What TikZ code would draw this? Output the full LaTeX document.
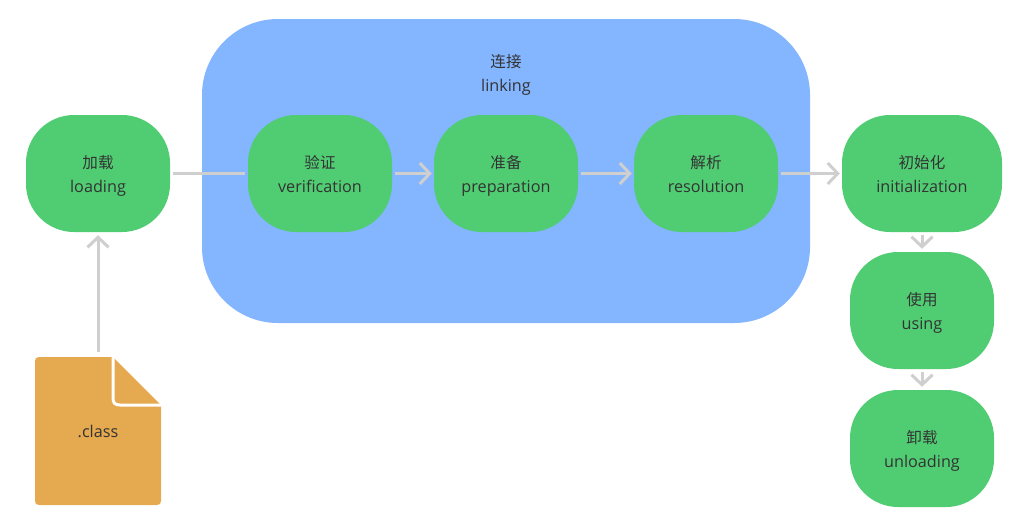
\documentclass[tikz,border=0pt]{standalone}
\usepackage{fontspec}
\setmainfont{Open Sans}
\newfontfamily\cjk[Scale=0.96]{Noto Sans CJK SC}
\usetikzlibrary{arrows.meta}
\definecolor{bluebg}{HTML}{84B5FF}
\definecolor{greenbox}{HTML}{50CD73}
\definecolor{orangedoc}{HTML}{E5A94F}
\definecolor{grayline}{HTML}{CFCFCF}
\definecolor{inktext}{HTML}{333333}
\newcommand{\two}[2]{\rule{0pt}{20pt}{\cjk #1}\\\rule[-6pt]{0pt}{18pt}#2}
\tikzset{
  x=1pt,y=-1pt,
  stagebox/.style={rectangle,fill=greenbox,text=inktext,rounded corners=48pt,minimum height=117pt,inner sep=0pt,align=center,font=\fontsize{16.2}{24}\selectfont},
  linkbox/.style={rectangle,fill=bluebg,rounded corners=76pt,minimum width=608pt,minimum height=304pt,inner sep=0pt},
  plainlabel/.style={text=inktext,inner sep=0pt,align=center,font=\fontsize{16.2}{24}\selectfont},
  conn/.style={draw=grayline,line width=3pt},
  arrowconn/.style={conn,-{Straight Barb[length=10pt,width=21pt,line width=3pt]}},
}
\begin{document}
\begin{tikzpicture}
\useasboundingbox (0,0) rectangle (1024,520);
\fill[white] (0,0) rectangle (1024,520);
\node[linkbox] (link) at (506,171) {};
\node[plainlabel] (linklabel) at (506,72.5) {\two{连接}{linking}};
\node[stagebox,minimum width=144pt] (load) at (98,173.5) {\two{加载}{loading}};
\node[stagebox,minimum width=144pt] (verify) at (320,173.5) {\two{验证}{verification}};
\node[stagebox,minimum width=144pt] (prep) at (506,173.5) {\two{准备}{preparation}};
\node[stagebox,minimum width=144pt] (res) at (706,173.5) {\two{解析}{resolution}};
\node[stagebox,minimum width=160pt] (init) at (922,173.5) {\two{初始化}{initialization}};
\node[stagebox,minimum width=144pt] (use) at (922,310.5) {\two{使用}{using}};
\node[stagebox,minimum width=144pt] (unload) at (922,448.5) {\two{卸载}{unloading}};
% document icon
\fill[orangedoc] (113,357) -- (161,405) -- (161,501) .. controls (161,503.5) and (159.5,505) .. (157,505)
  -- (39,505) .. controls (36.5,505) and (35,503.5) .. (35,501) -- (35,361) .. controls (35,358.5) and (36.5,357) .. (39,357) -- cycle;
\draw[white,line width=3pt] (113,355) -- (113,398) .. controls (113,403) and (115,405) .. (120,405) -- (163,405);
\node[plainlabel,minimum width=126pt,minimum height=148pt] (class) at (98,431) {.class};
% connectors
\draw[conn,shorten <=3pt,shorten >=3pt] (load.east) -- (verify.west);
\draw[arrowconn,shorten <=3pt,shorten >=2pt] (verify.east) -- (prep.west);
\draw[arrowconn,shorten <=3pt,shorten >=2pt] (prep.east) -- (res.west);
\draw[arrowconn,shorten <=3pt,shorten >=2pt] (res.east) -- (init.west);
\draw[arrowconn,shorten <=5pt,shorten >=3pt] (class.north) -- (load.south);
\draw[arrowconn,shorten <=3pt,shorten >=3pt] (init.south) -- (use.north);
\draw[arrowconn,shorten <=3pt,shorten >=3pt] (use.south) -- (unload.north);
\end{tikzpicture}
\end{document}
